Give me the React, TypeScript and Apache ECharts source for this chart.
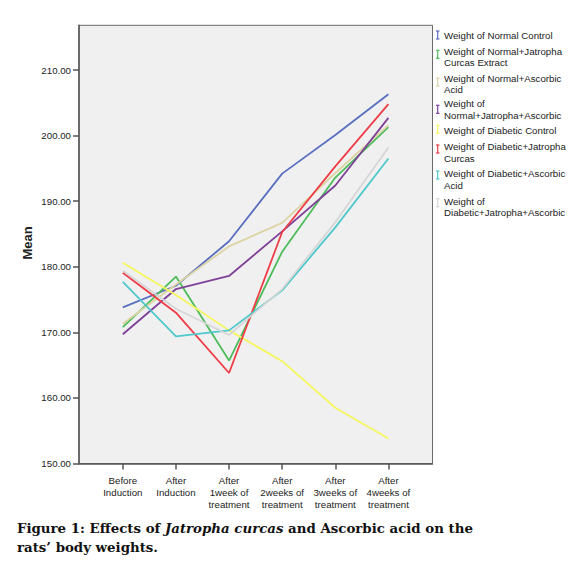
import React, { useEffect, useRef } from "react";
import * as echarts from "echarts";

// ---- data ----
const categories = [
  "Before\nInduction",
  "After\nInduction",
  "After\n1week of\ntreatment",
  "After\n2weeks of\ntreatment",
  "After\n3weeks of\ntreatment",
  "After\n4weeks of\ntreatment",
];
const yTicks = [150, 160, 170, 180, 190, 200, 210];

const normalControl = [173.8, 177.1, 183.9, 194.2, 200.1, 206.3];
const normalJatropha = [170.8, 178.5, 165.7, 182.3, 193.6, 201.3];
const normalAscorbic = [171.3, 177.3, 183.1, 186.7, 194.3, 201.6];
const normalJatAsc = [169.7, 176.6, 178.6, 185.4, 192.4, 202.7];
const diabeticControl = [180.6, 175.7, 170.3, 165.6, 158.5, 153.8];
const diabeticJatropha = [179.1, 173.0, 163.8, 185.3, 195.3, 204.8];
const diabeticAscorbic = [177.7, 169.4, 170.3, 176.4, 186.0, 196.5];
const diabeticJatAsc = [179.4, 173.6, 169.6, 176.6, 186.8, 198.2];

const seriesNames = [
  "Weight of Normal Control",
  "Weight of Normal+Jatropha Curcas Extract",
  "Weight of Normal+Ascorbic Acid",
  "Weight of Normal+Jatropha+Ascorbic",
  "Weight of Diabetic Control",
  "Weight of Diabetic+Jatropha Curcas",
  "Weight of Diabetic+Ascorbic Acid",
  "Weight of Diabetic+Jatropha+Ascorbic",
];
const legendLabels = [
  "Weight of Normal Control",
  "Weight of Normal+Jatropha\nCurcas Extract",
  "Weight of Normal+Ascorbic\nAcid",
  "Weight of\nNormal+Jatropha+Ascorbic",
  "Weight of Diabetic Control",
  "Weight of Diabetic+Jatropha\nCurcas",
  "Weight of Diabetic+Ascorbic\nAcid",
  "Weight of\nDiabetic+Jatropha+Ascorbic",
];
const seriesValues = [
  normalControl,
  normalJatropha,
  normalAscorbic,
  normalJatAsc,
  diabeticControl,
  diabeticJatropha,
  diabeticAscorbic,
  diabeticJatAsc,
];

// ---- styles / layout ----
const seriesColors = [
  "#5b6fc0",
  "#4dbd5c",
  "#dcd4a4",
  "#7e4197",
  "#f6f65e",
  "#ee3d46",
  "#4ec8cb",
  "#d6d6d6",
];
const legendTextY = [35, 51, 78.3, 103.5, 130, 146.5, 173.5, 201];
const legendMarkY = [35, 54.3, 82, 109.3, 129.3, 149, 175, 202.7];

const captionLine1 = "{b|Figure 1: Effects of }{i|Jatropha curcas}{b| and Ascorbic acid on the}";
const captionLine2 = "{b|rats’ body weights.}";

const SANS = "'Liberation Sans', Arial, sans-serif";
const SERIF = "'DejaVu Serif', serif";

export default function App() {
  const ref = useRef<HTMLDivElement>(null);

  useEffect(() => {
    document.body.style.margin = "0";
    if (!ref.current) return;
    const chart = echarts.init(ref.current, undefined, { renderer: "svg" });

    const graphic: any[] = [];
    // y axis title
    graphic.push({
      type: "text",
      x: 27,
      y: 243,
      rotation: Math.PI / 2,
      style: {
        text: "Mean",
        fontFamily: SANS,
        fontWeight: "bold",
        fontSize: 13,
        fill: "#222",
        align: "center",
        verticalAlign: "middle",
      },
    });
    // legend
    legendLabels.forEach((lab, i) => {
      const cx = 437.7;
      const cy = legendMarkY[i];
      const st = { stroke: seriesColors[i], lineWidth: 1.2 };
      graphic.push({
        type: "group",
        children: [
          { type: "line", shape: { x1: cx, y1: cy - 4, x2: cx, y2: cy + 4 }, style: st },
          { type: "line", shape: { x1: cx - 1.8, y1: cy - 4, x2: cx + 1.8, y2: cy - 4 }, style: st },
          { type: "line", shape: { x1: cx - 1.8, y1: cy + 4, x2: cx + 1.8, y2: cy + 4 }, style: st },
        ],
      });
      graphic.push({
        type: "text",
        x: 444,
        y: legendTextY[i] - 5.75,
        style: {
          text: lab,
          fontFamily: SANS,
          fontSize: 9.7,
          lineHeight: 11.5,
          fill: "#1a1a1a",
          align: "left",
          verticalAlign: "top",
        },
      });
    });
    // caption
    const CAP = 13.35;
    const rich = {
      b: { fontFamily: SERIF, fontWeight: "bold", fontSize: CAP, fill: "#111", color: "#111" },
      i: {
        fontFamily: SERIF,
        fontWeight: "bold",
        fontStyle: "italic",
        fontSize: CAP,
        fill: "#111",
        color: "#111",
      },
    };
    [captionLine1, captionLine2].forEach((t, k) => {
      graphic.push({
        type: "text",
        x: 17,
        y: k === 0 ? 528 : 547,
        style: {
          text: t,
          rich,
          fontFamily: SERIF,
          fontWeight: "bold",
          fontSize: CAP,
          fill: "#111",
          align: "left",
          verticalAlign: "middle",
        },
      });
    });

    const idx = categories.map((_, i) => i);

    chart.setOption({
      animation: false,
      backgroundColor: "#ffffff",
      grid: {
        left: 79,
        top: 25.3,
        width: 353.5,
        height: 438.2,
        show: true,
        backgroundColor: "#f0f0f0",
        borderColor: "#6a6a6a",
        borderWidth: 1,
      },
      xAxis: {
        type: "value",
        min: -0.825,
        max: 5.83,
        splitLine: { show: false },
        axisLine: { show: true, onZero: false, lineStyle: { color: "#555", width: 1.5 } },
        axisTick: {
          show: true,
          customValues: idx,
          length: 6,
          lineStyle: { color: "#555", width: 1.5 },
        },
        axisLabel: {
          customValues: idx,
          formatter: (v: number) => categories[Math.round(v)] ?? "",
          fontFamily: SANS,
          fontSize: 9.7,
          lineHeight: 11.8,
          color: "#222",
          margin: 11,
        },
      },
      yAxis: {
        type: "value",
        min: 150,
        max: 216.82,
        splitLine: { show: false },
        axisLine: { show: true, onZero: false, lineStyle: { color: "#555", width: 1.5 } },
        axisTick: {
          show: true,
          customValues: yTicks,
          length: 6,
          lineStyle: { color: "#555", width: 1.5 },
        },
        axisLabel: {
          customValues: yTicks,
          formatter: (v: number) => v.toFixed(2),
          fontFamily: SANS,
          fontSize: 9.7,
          color: "#222",
          margin: 8,
        },
      },
      series: seriesValues.map((vals, i) => ({
        name: seriesNames[i],
        type: "line",
        data: vals.map((v, j) => [j, v]),
        symbol: "none",
        lineStyle: { color: seriesColors[i], width: 1.8 },
        itemStyle: { color: seriesColors[i] },
      })),
      graphic,
    });

    return () => chart.dispose();
  }, []);

  return <div ref={ref} style={{ width: 586, height: 561 }} />;
}
